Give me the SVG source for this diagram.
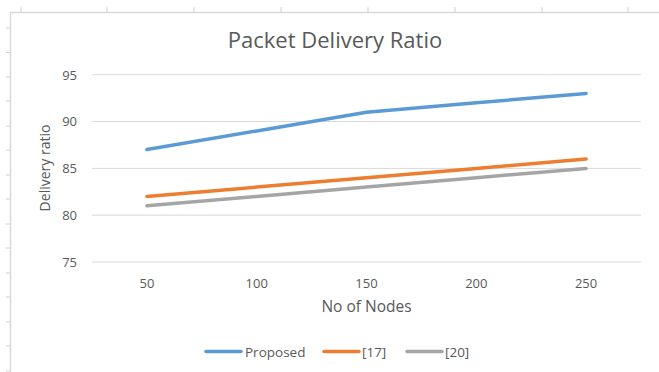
<svg xmlns="http://www.w3.org/2000/svg" width="659" height="372" viewBox="0 0 659 372">
<style>
.frame{stroke:#d9d9d9;stroke-width:1.5;fill:none}
.tick{stroke:#d0d0d0;stroke-width:1}
.grid{stroke:#d9d9d9;stroke-width:1;fill:none}
.t{font-family:"Open Sans","Liberation Sans",sans-serif;fill:#595959}
.ax{font-size:13px}
.series{fill:none;stroke-width:3.5;stroke-linecap:round;stroke-linejoin:round}
</style>
<rect x="0" y="0" width="659" height="372" fill="#ffffff"/>
<g id="frame">
<path class="frame" d="M10.5 372 V12.5 H659"/>
<g class="tick">
<path d="M21 7 V12 M107 7 V12 M194 7 V12 M281 7 V12 M368 7 V12 M455 7 V12 M542 7 V12 M628 7 V12"/>
<path d="M6 28 H10 M6 52.5 H10 M6 77 H10 M6 101 H10 M6 126 H10 M6 150 H10 M6 175 H10 M6 199 H10 M6 224 H10 M6 248 H10 M6 273 H10 M6 297 H10 M6 322 H10 M6 346 H10 M6 371 H10"/>
</g>
</g>
<g id="title"><text class="t" x="335" y="47.5" font-size="22" text-anchor="middle">Packet Delivery Ratio</text></g>
<g id="gridlines">
<path class="grid" d="M92 74.7 H641 M92 121.5 H641 M92 168.4 H641 M92 215.2 H641 M92 262 H641"/>
</g>
<g id="y-axis" class="t ax" text-anchor="end">
<text x="77" y="79.5">95</text>
<text x="77" y="126.3">90</text>
<text x="77" y="173.2">85</text>
<text x="77" y="220">80</text>
<text x="77" y="266.8">75</text>
<text transform="translate(50 168) rotate(-90)" text-anchor="middle" font-size="14">Delivery ratio</text>
</g>
<g id="x-axis" class="t ax" text-anchor="middle">
<text x="146.9" y="287.5">50</text>
<text x="256.7" y="287.5">100</text>
<text x="366.5" y="287.5">150</text>
<text x="476.3" y="287.5">200</text>
<text x="586.1" y="287.5">250</text>
<text x="366.5" y="311.5" font-size="15.5">No of Nodes</text>
</g>
<g id="connectors">
<polyline id="proposed" class="series" stroke="#5b9bd5" points="146.9,149.6 256.7,130.9 366.5,112.2 476.3,102.8 586.1,93.4"/>
<polyline id="ref17" class="series" stroke="#ed7d31" points="146.9,196.4 256.7,187.1 366.5,177.7 476.3,168.4 586.1,159"/>
<polyline id="ref20" class="series" stroke="#a5a5a5" points="146.9,205.8 256.7,196.4 366.5,187.1 476.3,177.7 586.1,168.4"/>
</g>
<g id="legend" class="t" font-size="13.5">
<line class="series" stroke="#5b9bd5" x1="206" y1="351.5" x2="241" y2="351.5"/>
<text x="245" y="356.5">Proposed</text>
<line class="series" stroke="#ed7d31" x1="324" y1="351.5" x2="359" y2="351.5"/>
<text x="362" y="356.5">[17]</text>
<line class="series" stroke="#a5a5a5" x1="407" y1="351.5" x2="442" y2="351.5"/>
<text x="445" y="356.5">[20]</text>
</g>
</svg>
